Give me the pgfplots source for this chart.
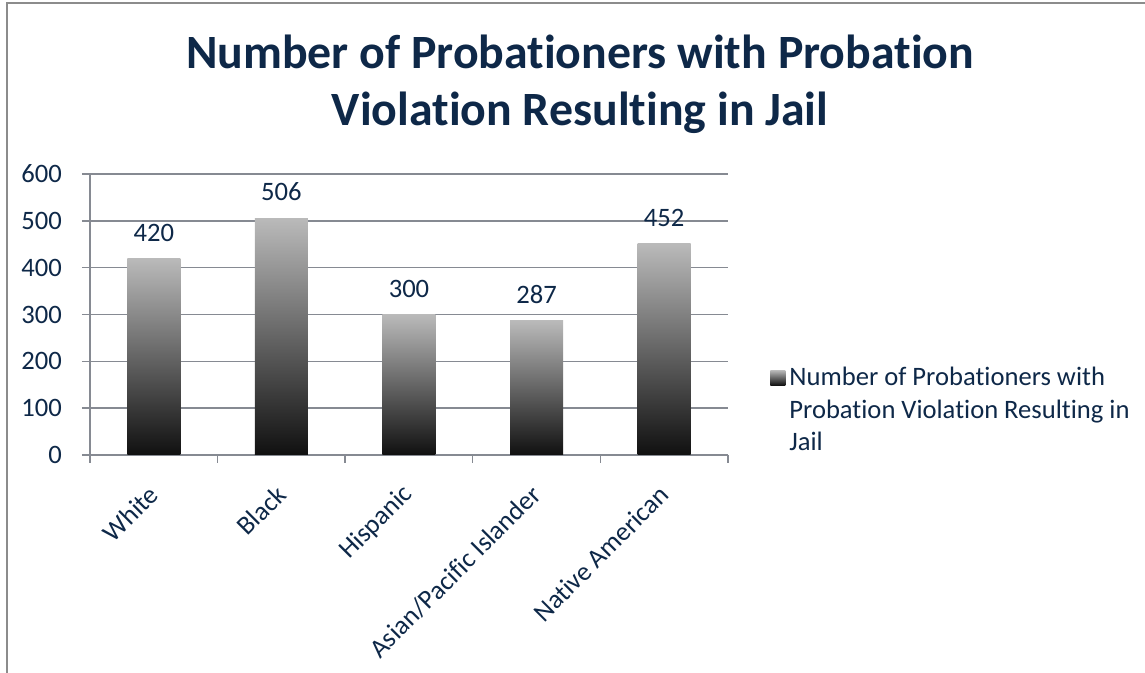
\documentclass[border=0pt]{standalone}
\usepackage{pgfplots}
\pgfplotsset{compat=1.18}
\usepackage{fontspec}
\setmainfont{Carlito}[Ligatures={NoCommon,NoContextual,NoRare}, Contextuals=NoAlternate]
\definecolor{navy}{RGB}{14,40,72}
\definecolor{gridgray}{RGB}{134,138,146}
\definecolor{framegray}{RGB}{140,140,140}
\definecolor{bartop}{RGB}{186,186,186}
\definecolor{barmid}{RGB}{128,128,128}
\definecolor{barbot}{RGB}{16,16,16}
\newcommand{\bodyfont}{\fontsize{13.3}{16.25}\selectfont}
\newcommand{\titlefont}{\fontsize{23.9}{28.5}\selectfont\bfseries}

\pgfplotsset{
  gradbar/.style={ybar, bar width=26.5pt, bar shift=0pt, draw=none,
    top color=bartop, middle color=barmid, bottom color=barbot,
    nodes near coords,
    nodes near coords style={font=\bodyfont, text=navy, yshift=5pt}},
}

\begin{document}
\begin{tikzpicture}
\path[use as bounding box] (0,0) rectangle (572.5pt,336.5pt);
\draw[framegray, line width=1pt] (3.5pt,0) -- (3.5pt,335pt) -- (572.5pt,335pt);
\node[anchor=base, font=\titlefont, text=navy, inner sep=0pt] at (290pt,302pt) {Number of Probationers with Probation};
\node[anchor=base, font=\titlefont, text=navy, inner sep=0pt] at (290pt,273.5pt) {Violation Resulting in Jail};
\begin{axis}[
  at={(45pt,109pt)}, anchor=south west,
  scale only axis, width=319pt, height=140.5pt,
  xmin=-0.5, xmax=4.5, ymin=0, ymax=600,
  ytick={0,100,...,600},
  /pgf/number format/assume math mode=true,
  xtick={-0.5,0.5,...,4.5}, xticklabels={},
  extra x ticks={0,1,2,3,4},
  extra x tick labels={White,Black,Hispanic,Asian/Pacific Islander,Native American},
  extra x tick style={major tick length=0pt,
    tick label style={rotate=45, anchor=east, yshift=-12.5pt, xshift=-9pt}},
  axis lines*=left,
  axis line style={gridgray, line width=0.7pt},
  tick style={gridgray, line width=0.7pt},
  tick align=outside,
  major tick length=4pt,
  ymajorgrids, grid style={gridgray, line width=0.7pt},
  ticklabel style={font=\bodyfont, text=navy},
  yticklabel style={xshift=-6.5pt},
  legend style={draw=none, fill=none, at={(axis description cs:1,0.327)},
    anchor=north west, xshift=21pt, font=\bodyfont, text=navy, inner sep=0pt},
]
\addplot[gradbar,
  legend image code/.code={\path[top color=bartop, middle color=barmid, bottom color=barbot]
    (-2pt,-3.5pt) rectangle (5.5pt,4pt);}]
  coordinates {(0,420)};
\addlegendentry{\vtop{\hbox{Number of Probationers with}\hbox{Probation Violation Resulting in}\hbox{Jail}}}
\addplot[gradbar, forget plot] coordinates {(1,506)};
\addplot[gradbar, forget plot] coordinates {(2,300)};
\addplot[gradbar, forget plot] coordinates {(3,287)};
\addplot[gradbar, forget plot] coordinates {(4,452)};
\end{axis}
\end{tikzpicture}
\end{document}
